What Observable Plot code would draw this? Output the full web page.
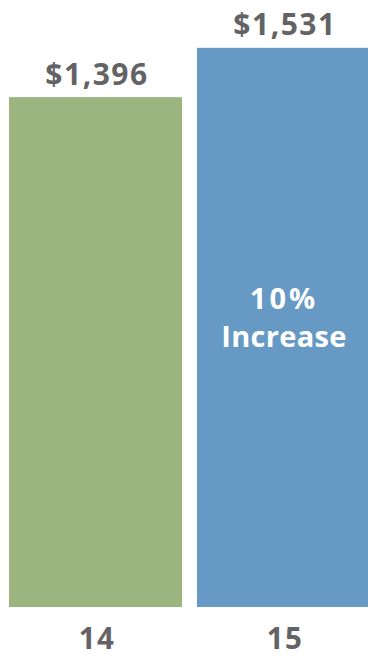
<!DOCTYPE html>
<html>
<head>
<meta charset="utf-8">
<script src="https://cdn.jsdelivr.net/npm/d3@7"></script>
<script src="https://cdn.jsdelivr.net/npm/@observablehq/plot@0.6"></script>
<style>
  html, body { margin: 0; padding: 0; background: #fff; }
  svg { display: block; font-family: "Open Sans", sans-serif; }
</style>
</head>
<body>
<div id="chart"></div>
<script>
const years = ["14", "15"];
const values = [1396, 1531];
const valueLabels = ["$1,396", "$1,531"];
const barColors = ["#9cb47f", "#6699c4"];
const innerLabel = "10%\nIncrease";

const data = years.map((y, i) => ({year: y, value: values[i], label: valueLabels[i], color: barColors[i]}));

const chart = Plot.plot({
  width: 368,
  height: 658,
  marginTop: 0,
  marginBottom: 51,
  marginLeft: 8,
  marginRight: 0,
  style: {fontFamily: "'Open Sans', sans-serif", background: "#fff"},
  x: {domain: years, range: [8, 371], paddingInner: 0.079, paddingOuter: 0, axis: null},
  y: {domain: [0, 1662], axis: null},
  marks: [
    Plot.barY(data, {x: "year", y: "value", fill: "color"}),
    Plot.text(data, {x: "year", y: "value", text: "label", lineAnchor: "bottom", dy: -13,
      fill: "#636366", fontSize: 30, fontWeight: "bold", dx: 1, className: "num"}),
    Plot.text(data.filter(d => d.year === "15"), {x: "year", text: () => innerLabel, fill: "#fff",
      fontSize: 29, fontWeight: "bold", lineHeight: 1.32, dy: 12, dx: 0, className: "inner"}),
    Plot.axisX({tickSize: 0, tickPadding: 0, dy: 21, fontSize: 29.5, fontWeight: "bold", fill: "#636366", color: "#636366", label: null, dx: 1, className: "xax"})
  ]
});
d3.select(chart).selectAll(".num text, .xax text").style("letter-spacing", "1.5px");
d3.select(chart).selectAll(".inner text tspan:first-child").style("letter-spacing", "3px");
d3.select(chart).selectAll(".inner text tspan:last-child").style("letter-spacing", "0.3px");
document.getElementById("chart").appendChild(chart);
</script>
</body>
</html>
